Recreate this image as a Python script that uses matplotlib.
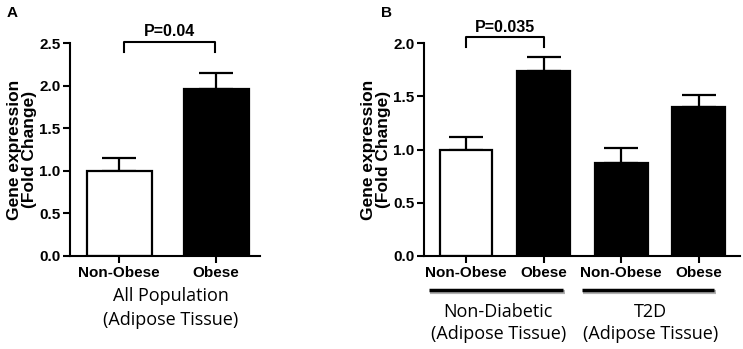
import matplotlib.pyplot as plt
import numpy as np

# Panel A data
a_labels = ['Non-Obese', 'Obese']
a_means = [1.0, 1.96]
a_errs = [0.15, 0.19]
a_colors = ['white', 'black']

# Panel B data
b_labels = ['Non-Obese', 'Obese', 'Non-Obese', 'Obese']
b_means = [1.0, 1.74, 0.87, 1.40]
b_errs = [0.12, 0.13, 0.14, 0.11]
b_colors = ['white', 'black', 'black', 'black']
b_groups = ['Non-Diabetic\n(Adipose Tissue)', 'T2D\n(Adipose Tissue)']

plt.rcParams['font.family'] = ['Liberation Sans', 'DejaVu Sans']

fig = plt.figure(figsize=(7.43, 3.49), dpi=100)
axA = fig.add_axes([0.0942, 0.2665, 0.2557, 0.610])
axB = fig.add_axes([0.5707, 0.2665, 0.4253, 0.610])


def draw_bars(ax, labels, means, errs, colors, width):
    x = np.arange(len(means))
    ax.bar(x, means, width=width, color=colors, edgecolor='black', linewidth=1.6, zorder=2)
    ax.errorbar(x, means, yerr=[np.zeros(len(errs)), errs], fmt='none',
                ecolor='black', elinewidth=1.6, capsize=12, capthick=1.6, zorder=1)
    ax.set_xticks(x)
    ax.set_xticklabels(labels, fontsize=11, fontweight='bold')
    for s in ['top', 'right']:
        ax.spines[s].set_visible(False)
    for s in ['left', 'bottom']:
        ax.spines[s].set_linewidth(1.5)
    ax.tick_params(axis='both', width=1.5, length=5, pad=2)
    ax.set_ylabel('Gene expression\n(Fold Change)', fontsize=12.5, fontweight='bold',
                  linespacing=1.0)


def bracket(ax, x0, x1, y, drop, text, ty):
    ax.plot([x0, x0, x1, x1], [y - drop, y, y, y - drop], color='black', lw=1.5,
            clip_on=False)
    ax.text((x0 + x1) / 2, ty, text, ha='center', va='center', fontsize=11.5,
            fontweight='bold')


# Panel A
draw_bars(axA, a_labels, a_means, a_errs, a_colors, 0.67)
axA.set_xlim(-0.505, 1.45)
axA.set_ylim(0, 2.5)
a_ticks = np.arange(0, 2.51, 0.5)
axA.set_yticks(a_ticks)
axA.set_yticklabels([f'{v:.1f}' for v in a_ticks], fontweight='bold', fontsize=11)
axA.yaxis.set_label_coords(-0.172, 0.5)
bracket(axA, 0.05, 0.99, 2.51, 0.12, 'P=0.04', 2.64)
axA.text(0.53, -0.47, 'All Population', ha='center', va='center', fontsize=13,
         family=['Open Sans', 'DejaVu Sans'])
axA.text(0.53, -0.75, '(Adipose Tissue)', ha='center', va='center', fontsize=13,
         family=['Open Sans', 'DejaVu Sans'])

# Panel B
draw_bars(axB, b_labels, b_means, b_errs, b_colors, 0.68)
axB.set_xlim(-0.54, 3.53)
axB.set_ylim(0, 2.0)
b_ticks = np.arange(0, 2.01, 0.5)
axB.set_yticks(b_ticks)
axB.set_yticklabels([f'{v:.1f}' for v in b_ticks], fontweight='bold', fontsize=11)
axB.yaxis.set_label_coords(-0.105, 0.5)
bracket(axB, 0.0, 1.0, 2.06, 0.1, 'P=0.035', 2.15)

group_spans = [(-0.48, 1.25), (1.49, 3.20)]
for (g0, g1), name in zip(group_spans, b_groups):
    axB.plot([g0 + 0.02, g1 + 0.02], [-0.335, -0.335], color='#b0b0b0', lw=3,
             clip_on=False, solid_capstyle='butt')
    axB.plot([g0, g1], [-0.32, -0.32], color='black', lw=2.5, clip_on=False,
             solid_capstyle='butt')
    top, bottom = name.split('\n')
    cx = (g0 + g1) / 2 + 0.03
    axB.text(cx, -0.53, top, ha='center', va='center', fontsize=13,
             family=['Open Sans', 'DejaVu Sans'])
    axB.text(cx, -0.73, bottom, ha='center', va='center', fontsize=13,
             family=['Open Sans', 'DejaVu Sans'])

fig.text(12 / 743, 1 - 13 / 349, 'A', fontsize=11, fontweight='bold', ha='center', va='center')
fig.text(387 / 743, 1 - 13 / 349, 'B', fontsize=11, fontweight='bold', ha='center', va='center')

fig.savefig('out.png', dpi=100)
